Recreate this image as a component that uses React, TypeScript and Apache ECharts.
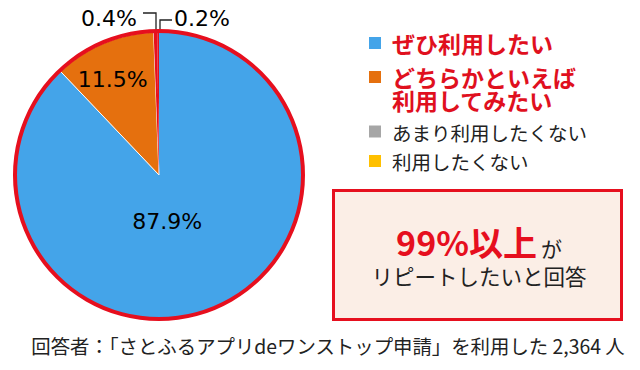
import React, { useEffect, useRef } from "react";
import * as echarts from "echarts";

// ---- data ----
const categories = ["ぜひ利用したい", "どちらかといえば\n利用してみたい", "あまり利用したくない", "利用したくない"];
const values = [87.9, 11.5, 0.4, 0.2];
const legendColors = ["#44a4e9", "#e5700e", "#a6a6a6", "#ffc000"];
const sliceColors = ["#44a4e9", "#e5700e", "#e60f1e", "#e60f1e"];
const legendTextColors = ["#e0101e", "#e0101e", "#222222", "#222222"];
const legendBold = [true, true, false, false];
const calloutMain = "99%以上";
const calloutSuffix = "が";
const calloutLine2 = "リピートしたいと回答";
const footnote = "回答者：「さとふるアプリdeワンストップ申請」を利用した 2,364 人";

const RED = "#e60f1e";
const CX = 159;
const CY = 175;
const R = 143;

// label placement (polar: fraction of radius, angle clockwise from top in degrees)
const labelPolar = [
  { f: 0.33, a: 170 },
  { f: 0.74, a: 334 },
];
const outsideLabels: Record<number, any> = {
  2: { x: 137, y: 18, align: "right", line: [[156, 52], [156, 13], [143, 13]] },
  3: { x: 174, y: 18, align: "left", line: [[160, 55], [160, 20], [172, 20]] },
};

export default function App() {
  const ref = useRef<HTMLDivElement>(null);
  useEffect(() => {
    document.body.style.margin = "0";
    const chart = echarts.init(ref.current!, undefined, { renderer: "svg" });

    const legendGraphics: any[] = [];
    const legendRows = [43, 76.5, 132.5, 161.5];
    const iconCenters = [43, 77, 131.5, 161];
    categories.forEach((name, i) => {
      legendGraphics.push({
        type: "rect",
        shape: { x: 369, y: iconCenters[i] - 6, width: 12, height: 12 },
        style: { fill: legendColors[i] },
      });
      name.split("\n").forEach((line, j) => {
        legendGraphics.push({
          type: "text",
          x: 392,
          y: legendRows[i] + j * 23,
          style: {
            text: line,
            fill: legendTextColors[i],
            font: `${legendBold[i] ? "bold " : ""}${legendBold[i] ? 23 : 19.5}px "Noto Sans CJK JP"`,
            verticalAlign: "middle",
            align: "left",
          },
        });
      });
    });

    chart.setOption({
      animation: false,
      series: [
        {
          type: "pie",
          center: [CX, CY],
          radius: [0, R],
          startAngle: 90,
          clockwise: true,
          avoidLabelOverlap: false,
          data: values.map((v, i) => ({
            name: categories[i],
            value: v,
            itemStyle: {
              color: sliceColors[i],
              borderColor: "#ffffff",
              borderWidth: i === 1 ? 1 : 0,
            },
            label: { position: i < 2 ? "inside" : "outside" },
            labelLine: { show: i >= 2 },
          })),
          label: {
            show: true,
            formatter: (p: any) => p.value.toFixed(1) + "%",
            fontFamily: "DejaVu Sans",
            fontSize: 22,
            color: "#000000",
          },
          labelLine: {
            show: true,
            lineStyle: { color: "#222222", width: 1.3 },
          },
          labelLayout: (params: any) => {
            const i = params.dataIndex;
            if (i < 2) {
              const p = labelPolar[i];
              const rad = (p.a * Math.PI) / 180;
              return {
                x: CX + p.f * R * Math.sin(rad),
                y: CY - p.f * R * Math.cos(rad),
                align: "center",
                verticalAlign: "middle",
              };
            }
            const o = outsideLabels[i];
            return {
              x: o.x,
              y: o.y,
              align: o.align,
              verticalAlign: "middle",
              labelLinePoints: o.line,
            };
          },
        },
        {
          type: "pie",
          center: [CX, CY],
          radius: [R - 1, R + 3],
          silent: true,
          label: { show: false },
          labelLine: { show: false },
          itemStyle: { color: RED },
          data: [{ value: 1, name: "ring" }],
        },
      ],
      graphic: [
        ...legendGraphics,
        {
          type: "rect",
          shape: { x: 333.5, y: 190.5, width: 288, height: 129 },
          style: { fill: "#fbeee6", stroke: RED, lineWidth: 3 },
        },
        {
          type: "text",
          x: 479,
          y: 241,
          style: {
            text: `{a|${calloutMain}}{b|${calloutSuffix}}`,
            align: "center",
            verticalAlign: "middle",
            rich: {
              a: {
                fontFamily: "Noto Sans CJK JP",
                fontWeight: "bold",
                fontSize: 34,
                fill: RED,
                color: RED,
                verticalAlign: "bottom",
                lineHeight: 34,
              },
              b: {
                fontFamily: "Noto Sans CJK JP",
                fontSize: 21,
                fill: "#222222",
                color: "#222222",
                verticalAlign: "bottom",
                lineHeight: 30,
                padding: [0, 0, 0, 4],
              },
            },
          },
        },
        {
          type: "text",
          x: 479,
          y: 275,
          style: {
            text: calloutLine2,
            align: "center",
            verticalAlign: "middle",
            font: '21.5px "Noto Sans CJK JP"',
            fill: "#222222",
          },
        },
        {
          type: "text",
          x: 328,
          y: 345,
          style: {
            text: footnote,
            align: "center",
            verticalAlign: "middle",
            font: '19.4px "Noto Sans CJK JP"',
            fill: "#222222",
          },
        },
      ],
    });
    return () => chart.dispose();
  }, []);
  return <div ref={ref} style={{ width: 640, height: 370 }} />;
}
